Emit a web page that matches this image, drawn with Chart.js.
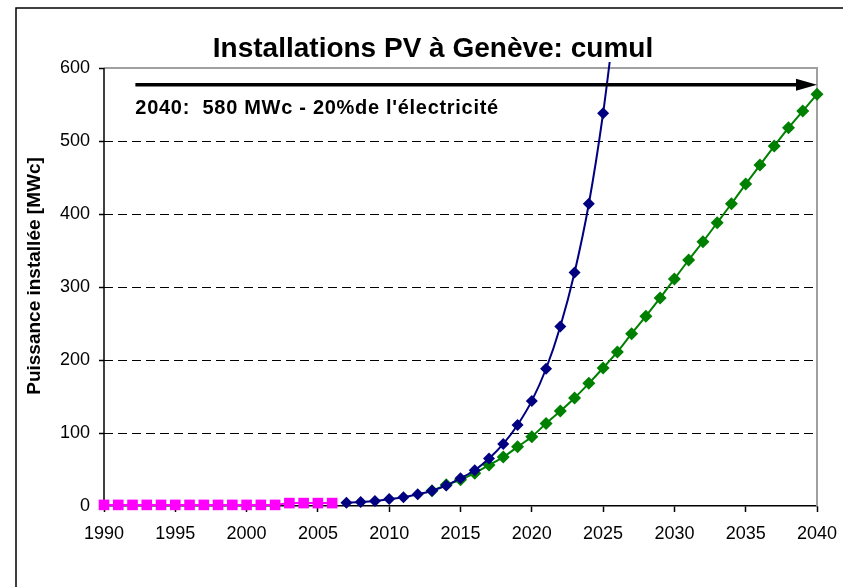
<!DOCTYPE html>
<html>
<head>
<meta charset="utf-8">
<script src="https://cdn.jsdelivr.net/npm/chart.js@4/dist/chart.umd.min.js"></script>
<style>
  html, body { margin: 0; padding: 0; background: #fff; }
  #wrap { width: 843px; height: 587px; }
</style>
</head>
<body>
<div id="wrap"><canvas id="pvChart" width="843" height="587"></canvas></div>
<script>
// Data
const pinkYears = [1990, 1991, 1992, 1993, 1994, 1995, 1996, 1997, 1998, 1999, 2000, 2001, 2002, 2003, 2004, 2005, 2006];
const pinkValues = [1.5, 1.5, 1.5, 1.5, 1.5, 1.5, 1.5, 1.5, 1.5, 1.5, 1.5, 1.5, 1.5, 4, 4, 4, 4];

const blueYears = [2007, 2008, 2009, 2010, 2011, 2012, 2013, 2014, 2015, 2016, 2017, 2018, 2019, 2020, 2021, 2022, 2023, 2024, 2025, 2026];
const blueValues = [4.5, 5.5, 7, 9.5, 12, 16, 21, 28, 38, 49, 65, 85, 111, 144, 188, 246, 320, 414, 538, 695];

const greenYears = [2013, 2014, 2015, 2016, 2017, 2018, 2019, 2020, 2021, 2022, 2023, 2024, 2025, 2026, 2027,
  2028, 2029, 2030, 2031, 2032, 2033, 2034, 2035, 2036, 2037, 2038, 2039, 2040];
const greenValues = [21, 29, 36, 45, 56, 67, 81, 95, 113, 130, 148, 168, 189, 211, 236,
  260, 285, 311, 337, 362, 388, 414, 441, 467, 493, 518, 541, 564];

const chartTitle = 'Installations PV à Genève: cumul';
const yTitle = 'Puissance installée [MWc]';
const noteText = "2040:  580 MWc - 20%de l'électricité";
const arrowFrom = 1992.2;
const arrowTo = 2040;
const arrowValue = 577;

const FONT = '"Liberation Sans", Arial, sans-serif';

function toPoints(xs, ys) {
  return xs.map((x, i) => ({ x: x, y: ys[i] }));
}

// Title, axis label, frame and the 2040 arrow
const decorPlugin = {
  id: 'decor',
  beforeDraw(chart) {
    const ctx = chart.ctx;
    ctx.save();
    ctx.fillStyle = '#fff';
    ctx.fillRect(0, 0, chart.width, chart.height);
    ctx.strokeStyle = '#000';
    ctx.lineWidth = 1.5;
    ctx.strokeRect(16, 8, chart.width + 20, chart.height + 20);

    ctx.fillStyle = '#000';
    ctx.font = 'bold 28px ' + FONT;
    ctx.textAlign = 'center';
    ctx.textBaseline = 'alphabetic';
    ctx.fillText(chartTitle, 433, 57);

    ctx.translate(40, 276);
    ctx.rotate(-Math.PI / 2);
    ctx.font = 'bold 19px ' + FONT;
    ctx.fillText(yTitle, 0, 0);
    ctx.restore();
  },
  beforeDatasetsDraw(chart) {
    const ctx = chart.ctx;
    const a = chart.chartArea;
    ctx.save();
    ctx.strokeStyle = '#a0a0a0';
    ctx.lineWidth = 2;
    ctx.beginPath();
    ctx.moveTo(a.left, a.top);
    ctx.lineTo(a.right, a.top);
    ctx.lineTo(a.right, a.bottom);
    ctx.stroke();
    // y axis line
    ctx.strokeStyle = '#000';
    ctx.lineWidth = 1.5;
    ctx.beginPath();
    ctx.moveTo(a.left, a.top);
    ctx.lineTo(a.left, a.bottom);
    ctx.stroke();
    ctx.restore();
  },
  afterDatasetsDraw(chart) {
    const ctx = chart.ctx;
    const xs = chart.scales.x, ys = chart.scales.y;
    const x0 = xs.getPixelForValue(arrowFrom);
    const x1 = xs.getPixelForValue(arrowTo);
    const y = ys.getPixelForValue(arrowValue);
    ctx.save();
    ctx.strokeStyle = '#000';
    ctx.fillStyle = '#000';
    ctx.lineWidth = 3.5;
    ctx.beginPath();
    ctx.moveTo(x0, y);
    ctx.lineTo(x1 - 18, y);
    ctx.stroke();
    ctx.beginPath();
    ctx.moveTo(x1, y);
    ctx.lineTo(x1 - 21, y - 6);
    ctx.lineTo(x1 - 21, y + 6);
    ctx.closePath();
    ctx.fill();

    ctx.font = 'bold 20px ' + FONT;
    ctx.letterSpacing = '0.7px';
    ctx.textAlign = 'left';
    ctx.textBaseline = 'alphabetic';
    ctx.fillText(noteText, x0, y + 29);
    ctx.restore();
  }
};

const ctx = document.getElementById('pvChart');
new Chart(ctx, {
  type: 'line',
  data: {
    datasets: [{
      data: toPoints(pinkYears, pinkValues),
      borderColor: '#ff00ff',
      backgroundColor: '#ff00ff',
      borderWidth: 2,
      pointStyle: 'rect',
      pointRadius: 7.5,
      pointBorderWidth: 0,
      tension: 0,
      clip: { left: 12, top: 12, right: 12, bottom: 12 }
    }, {
      data: toPoints(blueYears, blueValues),
      borderColor: '#000080',
      backgroundColor: '#000080',
      borderWidth: 2,
      pointStyle: 'rectRot',
      pointRadius: 6,
      pointBorderWidth: 0,
      tension: 0.3,
      clip: { left: 12, top: 6, right: 12, bottom: 12 }
    }, {
      data: toPoints(greenYears, greenValues),
      borderColor: '#008000',
      backgroundColor: '#008000',
      borderWidth: 2,
      pointStyle: 'rectRot',
      pointRadius: 6.5,
      pointBorderWidth: 0,
      tension: 0.3,
      clip: { left: 12, top: 12, right: 12, bottom: 12 }
    }]
  },
  options: {
    responsive: false,
    animation: false,
    events: [],
    layout: { padding: { left: 0, top: 68, right: 26, bottom: 0 } },
    plugins: {
      legend: { display: false },
      title: { display: false },
      tooltip: { enabled: false }
    },
    scales: {
      x: {
        type: 'linear',
        min: 1990,
        max: 2040,
        afterFit: (scale) => {
          scale.height = 81;
          scale.paddingLeft = 0;
          scale.paddingRight = 0;
        },
        afterBuildTicks: (scale) => {
          scale.ticks = [];
          for (let v = 1990; v <= 2040; v += 5) scale.ticks.push({ value: v });
        },
        ticks: {
          color: '#000',
          font: { family: FONT, size: 18 },
          padding: 11,
          maxRotation: 0,
          callback: (v) => String(v)
        },
        grid: {
          drawOnChartArea: false,
          tickLength: 6,
          tickColor: '#000',
          tickWidth: 1.5
        },
        border: { color: '#000', width: 1.5 }
      },
      y: {
        min: 0,
        max: 600,
        afterFit: (scale) => {
          scale.width = 104;
          scale.paddingTop = 0;
          scale.paddingBottom = 0;
        },
        ticks: {
          stepSize: 100,
          color: '#000',
          font: { family: FONT, size: 18 },
          padding: 9
        },
        grid: {
          color: (c) => (c.tick && (c.tick.value === 0 || c.tick.value === 600)) ? 'rgba(0,0,0,0)' : '#000',
          lineWidth: 1,
          tickLength: 5,
          tickColor: '#000',
          tickWidth: 1.5,
          tickBorderDash: []
        },
        border: { display: false, dash: [9, 5] }
      }
    }
  },
  plugins: [decorPlugin]
});
</script>
</body>
</html>
